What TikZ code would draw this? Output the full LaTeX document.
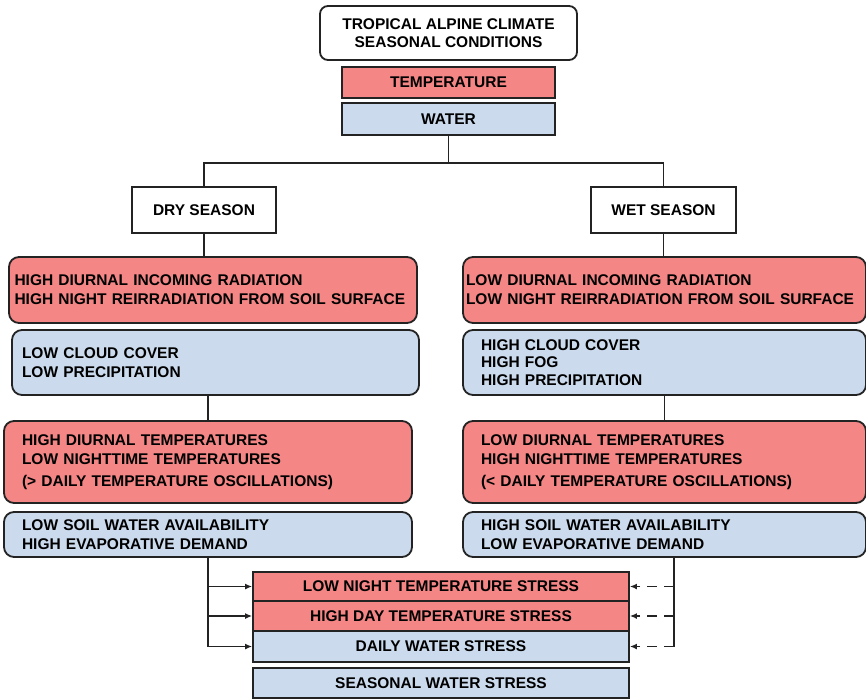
\documentclass[tikz,border=0pt]{standalone}
\usepackage{fontspec}
\setmainfont{Liberation Sans}
\usetikzlibrary{arrows.meta, positioning, calc}
\definecolor{tempred}{RGB}{245,134,134}
\definecolor{waterblue}{RGB}{203,219,237}
\definecolor{edgegray}{RGB}{35,35,35}
\tikzstyle{headbox} = [rectangle, rounded corners=8pt, draw=edgegray, line width=1.8pt, fill=white, align=center, font=\bfseries\fontsize{15.5}{18}\selectfont]
\tikzstyle{seasonbox} = [rectangle, draw=edgegray, line width=1.8pt, fill=white, align=center, font=\bfseries\fontsize{15.5}{18}\selectfont]
\tikzstyle{tempbar} = [rectangle, draw=edgegray, line width=1.8pt, fill=tempred, align=center, inner sep=0pt, font=\bfseries\fontsize{15.5}{18}\selectfont]
\tikzstyle{waterbar} = [tempbar, fill=waterblue]
\tikzstyle{tempbox} = [rectangle, rounded corners=10pt, draw=edgegray, line width=1.8pt, fill=tempred, align=left, inner ysep=0pt, font=\bfseries\fontsize{15.5}{19}\selectfont]
\tikzstyle{waterbox} = [tempbox, fill=waterblue]
\tikzstyle{link} = [draw=edgegray, line width=1.4pt]
\tikzstyle{arrow} = [link, -{Latex[length=7pt,width=6pt]}]
\tikzstyle{dasharrow} = [arrow, dash pattern=on 10pt off 7pt]

\begin{document}
\begin{tikzpicture}[x=1pt, y=-1pt]
\useasboundingbox[fill=white] (0,0) rectangle (866,699);

% Title and key
\node[headbox, minimum width=257pt, minimum height=54pt] (title) at (448.5,33) {TROPICAL ALPINE CLIMATE\\SEASONAL CONDITIONS};
\node[tempbar, minimum width=213pt, minimum height=31pt] (temp) at (448.5,82.5) {TEMPERATURE};
\node[waterbar, minimum width=213pt, minimum height=32pt] (water) at (448.5,119) {WATER};

% Seasons
\node[seasonbox, minimum width=144pt, minimum height=46pt] (dry) at (204,210) {DRY SEASON};
\node[seasonbox, minimum width=145pt, minimum height=46pt] (wet) at (663.5,210) {WET SEASON};
\coordinate (split) at (448.5,163);
\draw[link] (water.south) -- (split);
\draw[link] (dry.north) |- (split) -| (wet.north);

% Dry season column
\node[tempbox, text width=397pt, inner xsep=5.5pt, minimum height=66pt] (dryrad) at (213,290) {HIGH DIURNAL INCOMING RADIATION\\HIGH NIGHT REIRRADIATION FROM SOIL SURFACE};
\node[waterbox, text width=387pt, inner xsep=10pt, minimum height=65pt] (dryrain) at (215.5,362.5) {LOW CLOUD COVER\\LOW PRECIPITATION};
\node[tempbox, text width=372pt, inner xsep=18pt, minimum height=82pt] (drytemp) at (208,462) {HIGH DIURNAL TEMPERATURES\\LOW NIGHTTIME TEMPERATURES\\[3pt](> DAILY TEMPERATURE OSCILLATIONS)};
\node[waterbox, text width=372pt, inner xsep=18pt, minimum height=45pt] (drysoil) at (208,534.5) {LOW SOIL WATER AVAILABILITY\\HIGH EVAPORATIVE DEMAND};
\draw[link] (dry.south) -- (dry.south |- dryrad.north);
\draw[link] (drytemp.north |- dryrain.south) -- (drytemp.north);

% Wet season column
\node[tempbox, text width=397pt, inner xsep=3pt, minimum height=66pt] (wetrad) at (664.5,290) {LOW DIURNAL INCOMING RADIATION\\LOW NIGHT REIRRADIATION FROM SOIL SURFACE};
\node[waterbox, text width=367pt, inner xsep=18pt, minimum height=65pt, font=\bfseries\fontsize{15.5}{17.5}\selectfont] (wetrain) at (664.5,362.5) {HIGH CLOUD COVER\\HIGH FOG\\HIGH PRECIPITATION};
\node[tempbox, text width=367pt, inner xsep=18pt, minimum height=82pt] (wettemp) at (664.5,462) {LOW DIURNAL TEMPERATURES\\HIGH NIGHTTIME TEMPERATURES\\[3pt](< DAILY TEMPERATURE OSCILLATIONS)};
\node[waterbox, text width=367pt, inner xsep=18pt, minimum height=45pt] (wetsoil) at (664.5,534.5) {HIGH SOIL WATER AVAILABILITY\\LOW EVAPORATIVE DEMAND};
\draw[link] (wet.south) -- (wet.south |- wetrad.north);
\draw[link] (wettemp.north |- wetrain.south) -- (wettemp.north);

% Stresses
\node[tempbar, minimum width=376pt, minimum height=29pt] (night) at (441,586.5) {LOW NIGHT TEMPERATURE STRESS};
\node[tempbar, minimum width=376pt, minimum height=30pt] (day) at (441,616) {HIGH DAY TEMPERATURE STRESS};
\node[waterbar, minimum width=376pt, minimum height=31pt] (daily) at (441,646.5) {DAILY WATER STRESS};
\node[waterbar, minimum width=376pt, minimum height=30pt] (seasonal) at (441,683) {SEASONAL WATER STRESS};

% Arrows - dry season (solid)
\draw[arrow] (drysoil.south) |- (night.west);
\draw[arrow] (drysoil.south) |- (day.west);
\draw[arrow] (drysoil.south) |- (daily.west);

% Arrows - wet season (dashed)
\coordinate (wetdrop) at (674,557);
\draw[link] (wetdrop) -- (wetdrop |- daily.east);
\draw[dasharrow] (wetdrop |- night.east) -- (night.east);
\draw[dasharrow] (wetdrop |- day.east) -- (day.east);
\draw[dasharrow] (wetdrop |- daily.east) -- (daily.east);

\end{tikzpicture}
\end{document}
